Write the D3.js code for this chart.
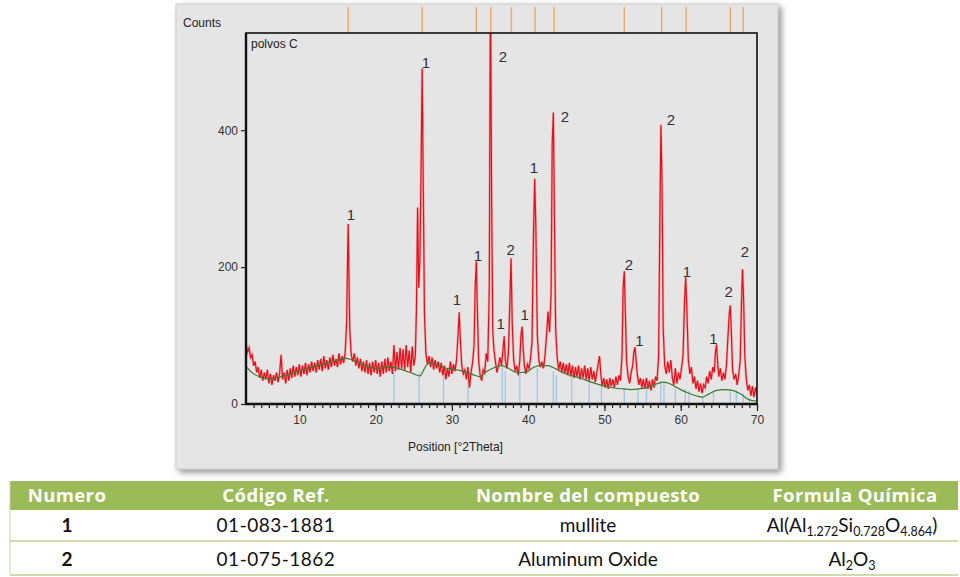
<!DOCTYPE html>
<html><head><meta charset="utf-8">
<script src="https://cdn.jsdelivr.net/npm/d3@7"></script>
<style>
html,body{margin:0;padding:0;background:#fff;}
svg{display:block;}
</style></head>
<body>
<svg id="c" width="960" height="577"></svg>
<script>
// ---- data ----
const xDomain = [3, 70];
const yDomain = [0, 542];
const xTickValues = [10, 20, 30, 40, 50, 60, 70];
const yTickValues = [0, 200, 400];

// measured scan: [°2Theta, counts]
const scan = [
[3.0,88],[3.2,76],[3.4,82],[3.6,68],[3.8,72],[4.0,56],[4.2,62],[4.4,46],[4.6,54],[4.8,38],[5.0,50],[5.2,34],[5.4,46],[5.6,36],[5.8,50],[6.0,30],[6.2,44],[6.4,28],[6.6,42],[6.8,34],[7.0,46],[7.2,32],[7.4,44],[7.6,72],[7.8,36],[8.0,46],[8.2,30],[8.4,50],[8.6,34],[8.8,52],[9.0,38],[9.2,56],[9.4,40],[9.6,54],[9.8,42],[10.0,58],[10.2,40],[10.4,56],[10.6,44],[10.8,60],[11.0,42],[11.2,58],[11.4,46],[11.6,62],[11.8,48],[12.0,60],[12.2,46],[12.4,64],[12.6,50],[12.8,66],[13.0,48],[13.2,70],[13.4,52],[13.6,64],[13.8,50],[14.0,68],[14.2,54],[14.4,72],[14.6,56],[14.8,66],[15.0,54],[15.2,74],[15.4,58],[15.6,70],[15.8,60],[16.0,74],[16.2,120],[16.3,200],[16.4,263],[16.5,190],[16.6,110],[16.8,72],[17.0,62],[17.2,74],[17.4,56],[17.6,68],[17.8,52],[18.0,66],[18.2,48],[18.4,62],[18.6,46],[18.8,64],[19.0,44],[19.2,60],[19.4,42],[19.6,62],[19.8,46],[20.0,64],[20.2,44],[20.4,60],[20.6,40],[20.8,62],[21.0,44],[21.2,66],[21.4,46],[21.6,68],[21.8,48],[22.0,62],[22.2,44],[22.4,86],[22.6,48],[22.8,76],[23.0,50],[23.2,82],[23.4,52],[23.6,80],[23.8,50],[24.0,86],[24.2,54],[24.4,78],[24.6,46],[24.8,84],[25.0,56],[25.2,70],[25.35,140],[25.5,287],[25.65,170],[25.8,210],[25.95,340],[26.1,490],[26.25,310],[26.4,130],[26.6,72],[26.8,58],[27.0,70],[27.2,54],[27.4,68],[27.6,50],[27.8,64],[28.0,52],[28.2,62],[28.4,46],[28.6,60],[28.8,42],[29.0,56],[29.2,36],[29.4,52],[29.6,40],[29.8,62],[30.0,44],[30.2,58],[30.4,48],[30.6,64],[30.8,100],[30.95,134],[31.1,95],[31.3,55],[31.5,44],[31.7,50],[31.9,36],[32.1,54],[32.3,24],[32.5,46],[32.7,60],[32.9,85],[33.05,170],[33.2,208],[33.35,130],[33.5,64],[33.7,42],[33.9,34],[34.1,50],[34.3,46],[34.5,74],[34.7,62],[34.9,170],[35.05,620],[35.2,310],[35.35,110],[35.5,80],[35.7,62],[35.9,46],[36.1,56],[36.3,68],[36.5,56],[36.7,80],[36.85,99],[37.0,64],[37.2,52],[37.4,74],[37.6,150],[37.75,213],[37.9,120],[38.1,64],[38.3,48],[38.5,56],[38.7,42],[38.9,64],[39.05,100],[39.2,113],[39.35,80],[39.5,56],[39.7,44],[39.9,58],[40.1,52],[40.3,66],[40.5,90],[40.7,250],[40.85,329],[41.0,260],[41.2,100],[41.4,64],[41.6,54],[41.8,62],[42.0,52],[42.2,70],[42.4,100],[42.6,135],[42.8,105],[43.0,160],[43.15,380],[43.3,426],[43.45,260],[43.6,110],[43.8,68],[44.0,50],[44.2,62],[44.4,46],[44.6,60],[44.8,44],[45.0,58],[45.2,42],[45.4,60],[45.6,40],[45.8,56],[46.0,38],[46.2,54],[46.4,40],[46.6,56],[46.8,36],[47.0,52],[47.2,38],[47.4,56],[47.6,36],[47.8,52],[48.0,34],[48.2,54],[48.4,36],[48.6,48],[48.8,32],[49.0,46],[49.2,60],[49.35,70],[49.5,46],[49.7,26],[49.9,38],[50.1,24],[50.3,36],[50.5,22],[50.7,38],[50.9,26],[51.1,36],[51.3,24],[51.5,40],[51.7,28],[51.9,42],[52.1,34],[52.3,70],[52.45,170],[52.6,194],[52.75,130],[52.9,62],[53.1,40],[53.3,30],[53.5,46],[53.7,56],[53.85,75],[54.0,83],[54.15,64],[54.3,44],[54.5,28],[54.7,38],[54.9,24],[55.1,36],[55.3,22],[55.5,38],[55.7,22],[55.9,34],[56.1,20],[56.3,36],[56.5,24],[56.7,40],[56.9,34],[57.1,70],[57.25,250],[57.4,408],[57.55,320],[57.7,110],[57.9,56],[58.1,44],[58.3,62],[58.5,46],[58.7,64],[58.9,38],[59.1,28],[59.3,52],[59.5,30],[59.7,46],[59.9,36],[60.1,52],[60.3,70],[60.5,150],[60.65,185],[60.8,140],[61.0,64],[61.2,44],[61.4,54],[61.6,30],[61.8,40],[62.0,22],[62.2,34],[62.4,18],[62.6,30],[62.8,16],[63.0,28],[63.2,24],[63.4,40],[63.6,30],[63.8,48],[64.0,36],[64.2,54],[64.4,46],[64.55,76],[64.7,87],[64.85,58],[65.0,40],[65.2,52],[65.4,34],[65.6,46],[65.8,36],[66.0,58],[66.2,100],[66.35,130],[66.5,144],[66.65,100],[66.8,50],[67.0,36],[67.2,44],[67.4,28],[67.6,42],[67.8,64],[67.95,140],[68.1,197],[68.25,150],[68.4,70],[68.6,36],[68.8,20],[69.0,28],[69.2,12],[69.4,26],[69.6,10],[69.8,24],[70.0,14]
];

// fitted background: [°2Theta, counts]
const background = [
[3,55],[4,44],[5,39],[6,37],[7,38],[8,41],[9,45],[10,48],[11,52],[12,55],[13,58],[14,61],[15,64],[16,67],[17,64],[18,59],[19,55],[20,52],[21,53],[22,54],[23,52],[24,48],[25,44],[25.8,41],[26.5,54],[27,60],[28,58],[29,53],[30,51],[31,49],[32,46],[33,42],[33.7,40],[34.5,47],[35.5,53],[36.5,56],[37.3,53],[38.2,47],[39,46],[39.8,47],[40.8,54],[41.7,56],[42.6,56],[43.5,52],[44.5,46],[45.5,42],[46.8,38],[48,33],[49.4,28],[50.5,25],[51.5,23],[52.5,22],[53.5,21],[54.5,22],[55.5,24],[56.5,28],[57.7,32],[58.5,30],[59.2,26],[60,21],[61,16],[62,12],[62.8,10],[63.6,14],[64.7,20],[65.8,21],[66.8,20],[67.8,15],[69,6],[70,4]
];

// reference pattern sticks (light blue): position, height
const stickPos = [22.4,25.7,28.9,32.1,36.6,37.0,38.9,41.2,43.3,43.7,45.7,48.0,49.6,52.6,54.4,55.5,57.4,57.8,59.3,60.6,61.1,62.9,64.3,66.5,67.3,68.2,69.0];
const stickH   = [50,47,47,42,54,48,44,52,48,42,38,32,28,24,22,26,34,32,26,22,19,11,18,22,20,16,8];

// identified peak markers (orange ticks on top)
const markerPos = [16.4,26.1,33.2,35.1,37.8,40.9,43.4,52.6,57.5,60.7,66.5,68.2];

// peak labels: phase number and label anchor [°2Theta, counts]
const labelText = ["1","1","1","1","2","1","2","1","1","2","2","1","2","1","1","2","2"];
const labelPos  = [[16.76,276],[26.6,499],[30.65,152],[33.4,217],[36.7,507],[36.4,118],[37.7,225],[39.55,131],[40.75,346],[44.8,420],[53.2,203],[54.6,93],[58.7,415],[60.8,193],[64.3,96],[66.3,164],[68.4,222]];

// table
const tableHeader = ["Numero","Código Ref.","Nombre del compuesto","Formula Química"];
const tableNum  = ["1","2"];
const tableCode = ["01-083-1881","01-075-1862"];
const tableName = ["mullite","Aluminum Oxide"];
// formulas as [text, isSubscript] parts
const tableFormula = [
  [["Al(Al",0],["1.272",1],["Si",0],["0.728",1],["O",0],["4.864",1],[")",0]],
  [["Al",0],["2",1],["O",0],["3",1]]
];

// ---- drawing ----
const svg = d3.select("#c");
const defs = svg.append("defs");
const f = defs.append("filter").attr("id","sh").attr("x","-5%").attr("y","-5%").attr("width","115%").attr("height","115%");
f.append("feDropShadow").attr("dx",3).attr("dy",3).attr("stdDeviation",3).attr("flood-color","#777").attr("flood-opacity",0.8);

// panel
svg.append("rect").attr("x",176).attr("y",4).attr("width",602).attr("height",465)
  .attr("fill","#e5e5e5").attr("stroke","#cfcfcf").attr("filter","url(#sh)");

const L=246, R=757, T=33, B=404;
const x = d3.scaleLinear().domain(xDomain).range([L,R]);
const y = d3.scaleLinear().domain(yDomain).range([B,T]);

defs.append("clipPath").attr("id","clip").append("rect").attr("x",L).attr("y",T).attr("width",R-L).attr("height",B-T);

const g = svg.append("g").attr("font-family","'Liberation Sans', Arial, sans-serif");

// orange markers
g.selectAll("line.mk").data(markerPos).join("line").attr("class","mk")
  .attr("x1",d=>x(d)).attr("x2",d=>x(d)).attr("y1",7).attr("y2",T)
  .attr("stroke","#f0a868").attr("stroke-width",1.4);

// plot group clipped
const pg = g.append("g").attr("clip-path","url(#clip)");
pg.selectAll("line.st").data(stickPos).join("line").attr("class","st")
  .attr("x1",d=>x(d)).attr("x2",d=>x(d)).attr("y1",y(0)).attr("y2",(d,i)=>y(stickH[i]))
  .attr("stroke","#a5c8e6").attr("stroke-width",1.4);

const line = d3.line().x(d=>x(d[0])).y(d=>y(d[1]));
pg.append("path").datum(scan).attr("d",line).attr("fill","none")
  .attr("stroke","#f08a8a").attr("stroke-width",2.6).attr("opacity",0.55);
pg.append("path").datum(scan).attr("d",line).attr("fill","none")
  .attr("stroke","#e3101c").attr("stroke-width",1.2);
pg.append("path").datum(background).attr("d",d3.line().curve(d3.curveMonotoneX).x(d=>x(d[0])).y(d=>y(d[1])))
  .attr("fill","none").attr("stroke","#3d7a2e").attr("stroke-width",1.2);

// frame
g.append("rect").attr("x",L).attr("y",T).attr("width",R-L).attr("height",B-T)
  .attr("fill","none").attr("stroke","#111").attr("stroke-width",1.6);
g.append("line").attr("x1",L).attr("x2",L).attr("y1",T).attr("y2",B).attr("stroke","#111").attr("stroke-width",2.4);
g.append("line").attr("x1",L).attr("x2",R).attr("y1",B).attr("y2",B).attr("stroke","#111").attr("stroke-width",2.4);

// axes
const ya = g.append("g").attr("transform",`translate(${L},0)`)
  .call(d3.axisLeft(y).tickValues(yTickValues).tickSize(5).tickPadding(3));
const xMinor = d3.range(4,71);
const xm = g.append("g").attr("transform",`translate(0,${B})`)
  .call(d3.axisBottom(x).tickValues(xMinor).tickSize(4).tickFormat(""));
const xa = g.append("g").attr("transform",`translate(0,${B})`)
  .call(d3.axisBottom(x).tickValues(xTickValues).tickSize(7).tickPadding(4));
[ya,xm,xa].forEach(a=>{
  a.select(".domain").remove();
  a.selectAll("line").attr("stroke","#222").attr("stroke-width",1.2);
  a.selectAll("text").attr("font-size",12).attr("fill","#333").attr("font-family","'Liberation Sans', Arial, sans-serif");
});

// titles
g.append("text").attr("x",183).attr("y",27).attr("font-size",12).attr("fill","#222").text("Counts");
g.append("text").attr("x",251).attr("y",48).attr("font-size",12).attr("fill","#222").text("polvos C");
g.append("text").attr("x",(L+R)/2 - 46).attr("y",451).attr("text-anchor","middle").attr("font-size",12).attr("fill","#222").text("Position [°2Theta]");

// peak labels
g.selectAll("text.pl").data(labelText).join("text").attr("class","pl")
  .attr("x",(d,i)=>x(labelPos[i][0])).attr("y",(d,i)=>y(labelPos[i][1]))
  .attr("dy","0.36em").attr("text-anchor","middle").attr("font-size",15).attr("fill","#333").text(d=>d);

// table
const colX = [67, 276, 588, 855];
const t = svg.append("g").attr("font-family","Lato, 'Open Sans', sans-serif");
t.append("rect").attr("x",10).attr("y",481).attr("width",948).attr("height",29).attr("fill","#9bbb59");
[541,575].forEach(yy=>t.append("line").attr("x1",10).attr("x2",958).attr("y1",yy).attr("y2",yy).attr("stroke","#9bbb59").attr("stroke-width",1.2));
t.append("line").attr("x1",10).attr("x2",10).attr("y1",481).attr("y2",575).attr("stroke","#c5d7a0").attr("stroke-width",1);
t.selectAll("text.h").data(tableHeader).join("text").attr("class","h")
  .attr("x",(d,i)=>colX[i]).attr("y",502).attr("text-anchor","middle")
  .attr("font-family","'Open Sans', Lato, sans-serif").attr("letter-spacing",0.4)
  .attr("font-size",18.5).attr("font-weight","bold").attr("fill","#fff").text(d=>d);
const rowY = [532, 566];
tableNum.forEach((d,i)=>{
  t.append("text").attr("x",colX[0]).attr("y",rowY[i]).attr("text-anchor","middle").attr("font-size",19).attr("font-weight","bold").attr("fill","#111").text(d);
  t.append("text").attr("x",colX[1]).attr("y",rowY[i]).attr("text-anchor","middle").attr("font-size",19).attr("letter-spacing",0.5).attr("fill","#111").text(tableCode[i]);
  t.append("text").attr("x",colX[2]).attr("y",rowY[i]).attr("text-anchor","middle").attr("font-size",19).attr("fill","#111").text(tableName[i]);
  const ft = t.append("text").attr("x",colX[3]-3).attr("y",rowY[i]).attr("text-anchor","middle").attr("font-size",19).attr("fill","#111");
  tableFormula[i].forEach((p,j)=>{
    const prev = j>0 ? tableFormula[i][j-1][1] : 0;
    const s = ft.append("tspan").text(p[0]).attr("dy", p[1] && !prev ? 4 : (!p[1] && prev ? -4 : 0));
    if(p[1]) s.attr("font-size",12.5);
  });
});
</script>
</body></html>
